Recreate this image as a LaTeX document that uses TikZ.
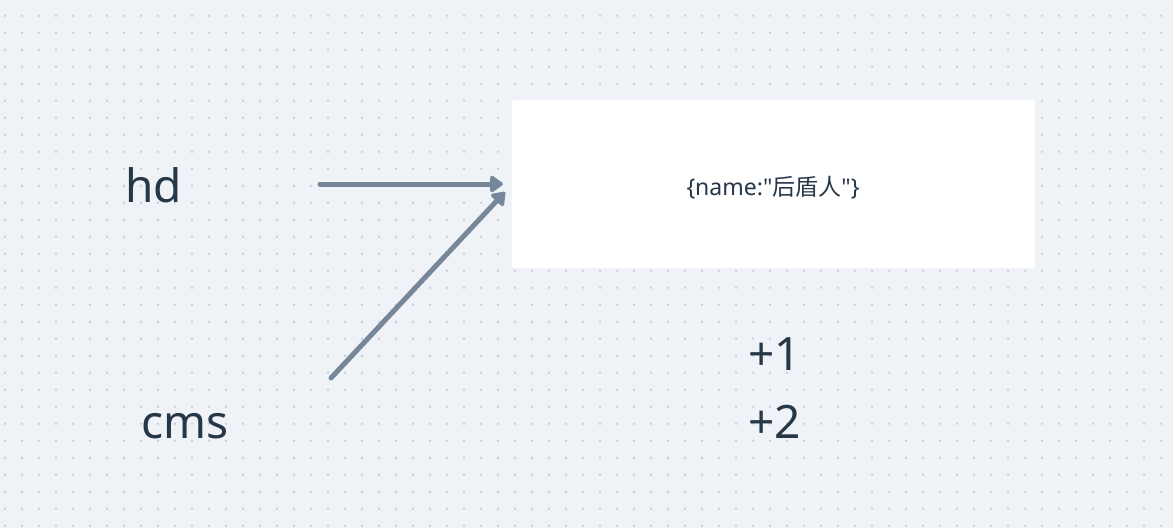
\documentclass[tikz,border=0pt]{standalone}
\usepackage{fontspec}
\setmainfont{Noto Sans}
\newfontfamily\labelfont{Noto Sans}[Ligatures=TeXOff]
\newfontfamily\cjk{Noto Sans CJK SC}
\usetikzlibrary{arrows.meta}
\definecolor{bg}{HTML}{EFF3F7}
\definecolor{dotc}{HTML}{C6CFDA}
\definecolor{ink}{HTML}{263747}
\definecolor{arrowc}{HTML}{76879A}
\tikzset{
  biglabel/.style={inner sep=0pt, text=ink, font=\fontsize{46}{56}\selectfont, anchor=base west},
  conn/.style={draw=arrowc, line width=5pt, line cap=round, -{Triangle[length=14pt,width=19pt,round]}},
}
\begin{document}
\begin{tikzpicture}[x=1pt,y=-1pt]
\fill[bg] (0,0) rectangle (1173,528);
\useasboundingbox (0,0) rectangle (1173,528);
\foreach \i in {0,...,68}{
  \foreach \j in {0,...,30}{
    \fill[dotc] (5+17*\i,15.7+17*\j) circle (1.3);
  }
}
\node[draw=white!90!dotc, fill=white, rounded corners=2pt, minimum width=523pt, minimum height=168pt, inner sep=0pt] (box) at (773.5,184) {};
\node[inner sep=0pt, text=ink, font=\labelfont\fontsize{23}{26}\selectfont] (label) at (773,188) {\{name:"{\cjk 后盾人}"\}};
\node[biglabel] (hd) at (125,202) {hd};
\node[biglabel] (cms) at (141,438) {cms};
\node[biglabel] (p1) at (748,370) {+1};
\node[biglabel] (p2) at (748,438) {+2};
\coordinate (s1) at (320,184);
\coordinate (s2) at (331,378);
\coordinate (t1) at ([xshift=-9pt]box.west);
\coordinate (t2) at (505,192);
\draw[conn] (s1) -- (t1);
\draw[conn] (s2) -- (t2);
\end{tikzpicture}
\end{document}
